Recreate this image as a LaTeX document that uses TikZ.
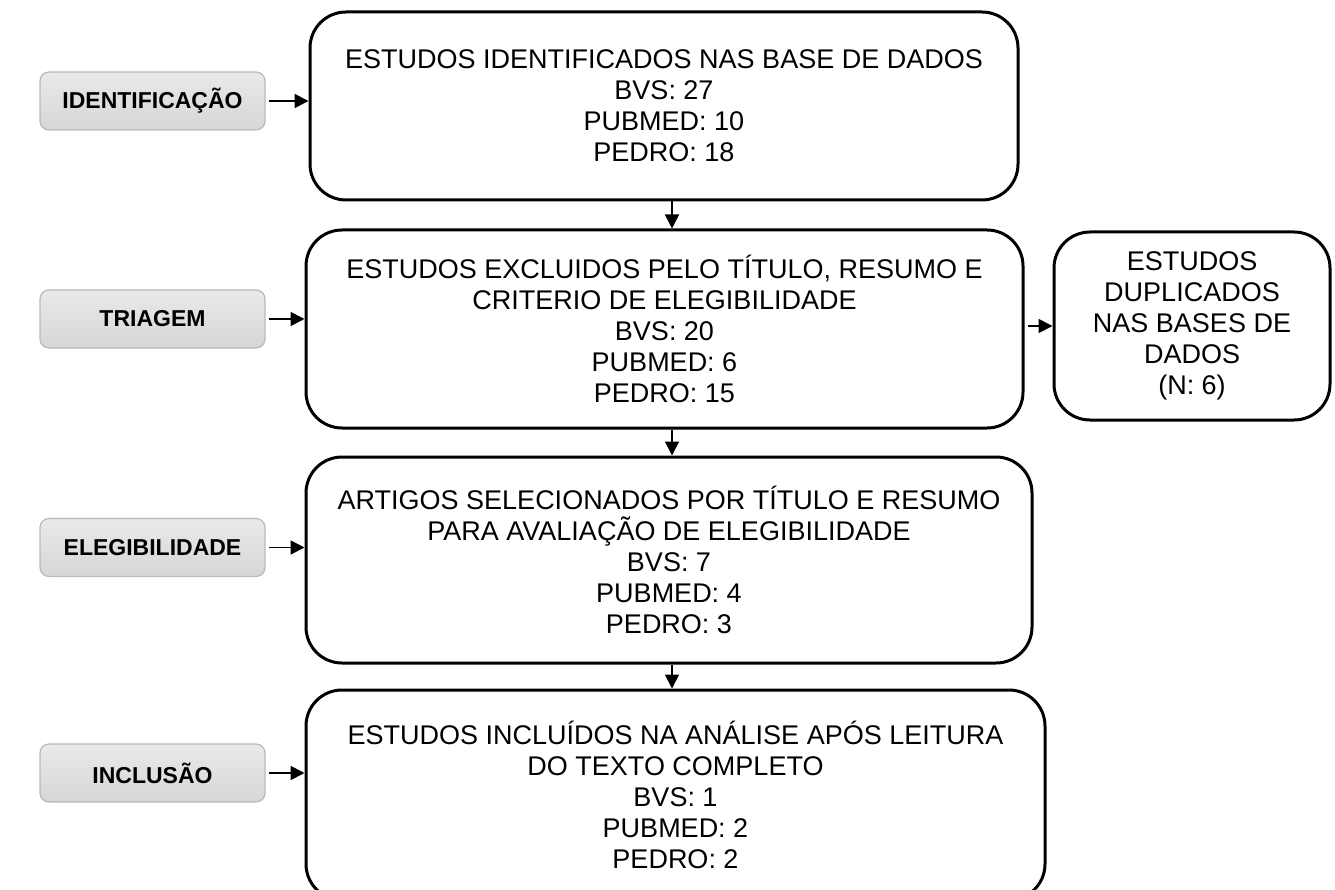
\documentclass[tikz,border=0pt]{standalone}
\usepackage{fontspec}
\setmainfont{Liberation Sans}
\usetikzlibrary{positioning, arrows.meta}

\begin{document}
\begin{tikzpicture}[
        x=1pt, y=-1pt,
        node distance=30pt,
        mainbox/.style={draw, line width=3pt, rounded corners=36pt, align=center, font=\fontsize{27}{31}\selectfont, inner sep=0pt},
        stage/.style={draw=gray!55, line width=1.2pt, rounded corners=9pt, top color=gray!17, bottom color=gray!32, align=center, font=\fontsize{23}{27}\selectfont\bfseries, minimum width=225pt, minimum height=58pt},
        arrow/.style={-{Triangle[length=14pt, width=14pt]}, line width=1.8pt, shorten <=3pt}
      ]
    \useasboundingbox (0,0) rectangle (1335,890);

    \node[mainbox, minimum width=708pt, minimum height=188pt] (ident) at (664,106) {ESTUDOS IDENTIFICADOS NAS BASE DE DADOS\\BVS: 27\\PUBMED: 10\\PEDRO: 18};
    \node[mainbox, minimum width=717pt, minimum height=198pt] (triag) [below=27pt of ident, xshift=0.5pt] {ESTUDOS EXCLUIDOS PELO TÍTULO, RESUMO E\\CRITERIO DE ELEGIBILIDADE\\BVS: 20\\PUBMED: 6\\PEDRO: 15};
    \node[mainbox, minimum width=276pt, minimum height=188pt] (dup) [right=28pt of triag, yshift=3pt] {ESTUDOS\\DUPLICADOS\\NAS BASES DE\\DADOS\\(N: 6)};
    \node[mainbox, minimum width=726pt, minimum height=206pt] (elig) [below=26pt of triag, xshift=4.5pt] {ARTIGOS SELECIONADOS POR TÍTULO E RESUMO\\PARA AVALIAÇÃO DE ELEGIBILIDADE\\BVS: 7\\PUBMED: 4\\PEDRO: 3};
    \node[mainbox, minimum width=739pt, minimum height=210pt] (incl) [below=24pt of elig, xshift=6.5pt] {ESTUDOS INCLUÍDOS NA ANÁLISE APÓS LEITURA\\DO TEXTO COMPLETO\\BVS: 1\\PUBMED: 2\\PEDRO: 2};

    \node[stage] (sident) at (152.5,101) {IDENTIFICAÇÃO};
    \node[stage] (striag) at (152.5,319) {TRIAGEM};
    \node[stage] (selig) at (152.5,547.5) {ELEGIBILIDADE};
    \node[stage] (sincl) at (152.5,773) {INCLUSÃO};

    \coordinate (axis) at (672,0);

    \draw[arrow] (sident.east) -- (sident.east -| ident.west);
    \draw[arrow] (striag.east) -- (striag.east -| triag.west);
    \draw[arrow] (selig.east) -- (selig.east -| elig.west);
    \draw[arrow] (sincl.east) -- (sincl.east -| incl.west);

    \draw[arrow, shorten <=0pt] (ident.south -| axis) -- (triag.north -| axis);
    \draw[arrow, shorten <=0pt] (triag.south -| axis) -- (elig.north -| axis);
    \draw[arrow, shorten <=0pt] (elig.south -| axis) -- (incl.north -| axis);
    \draw[arrow] (dup.west -| triag.east) -- (dup.west);

\end{tikzpicture}
\end{document}
